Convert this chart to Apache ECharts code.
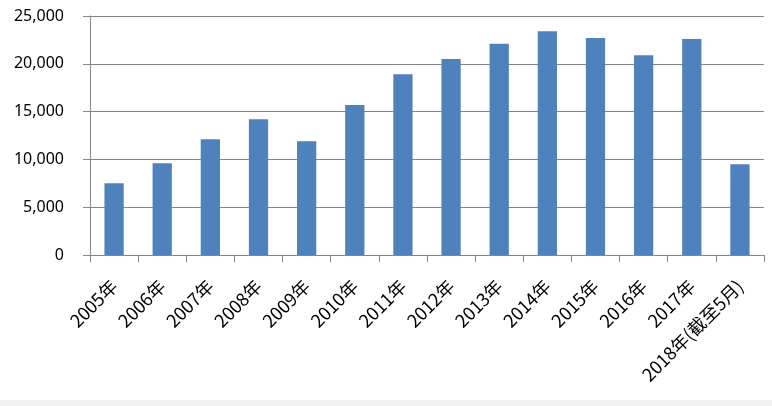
<!DOCTYPE html>
<html><head><meta charset="utf-8">
<script src="https://cdn.jsdelivr.net/npm/echarts@6/dist/echarts.min.js"></script>
<style>html,body{margin:0;padding:0;background:#fff}#c{width:772px;height:406px}</style>
</head><body><div id="c"></div>
<script>
const categories = ['2005年','2006年','2007年','2008年','2009年','2010年','2011年','2012年','2013年','2014年','2015年','2016年','2017年','2018年(截至5月)'];
const values = [7500, 9600, 12100, 14200, 11900, 15700, 18900, 20500, 22100, 23400, 22700, 20900, 22600, 9500];
const yTicks = {min: 0, max: 25000, interval: 5000};

const chart = echarts.init(document.getElementById('c'), null, {renderer: 'canvas'});
const font = '"Noto Sans", "Noto Sans CJK SC", sans-serif';
const cjk = '"Noto Sans CJK SC", sans-serif';
chart.setOption({
  animation: false,
  textStyle: {fontFamily: font},
  graphic: [{type: 'rect', shape: {x: 0, y: 400, width: 772, height: 6}, style: {fill: '#f2f2f2'}, silent: true}],
  grid: {left: 90, right: 8, top: 16, bottom: 151},
  xAxis: {
    type: 'category',
    data: categories,
    boundaryGap: true,
    axisLine: {lineStyle: {color: '#868686', width: 1}},
    axisTick: {show: true, alignWithLabel: false, length: 7, lineStyle: {color: '#868686'}},
    axisLabel: {rotate: 45, interval: 0, color: '#000', fontSize: 18, fontFamily: cjk, margin: 28}
  },
  yAxis: {
    type: 'value',
    min: yTicks.min, max: yTicks.max, interval: yTicks.interval,
    axisLine: {show: true, lineStyle: {color: '#868686', width: 1}},
    axisTick: {show: true, length: 7, lineStyle: {color: '#868686'}},
    splitLine: {show: true, lineStyle: {color: '#868686', width: 1}},
    axisLabel: {color: '#000', fontSize: 16, fontFamily: font, margin: 26,
      formatter: v => v.toLocaleString('en-US')}
  },
  series: [{
    type: 'bar',
    data: values,
    barWidth: '40%',
    itemStyle: {color: '#4f81bd'}
  }]
});
</script></body></html>
